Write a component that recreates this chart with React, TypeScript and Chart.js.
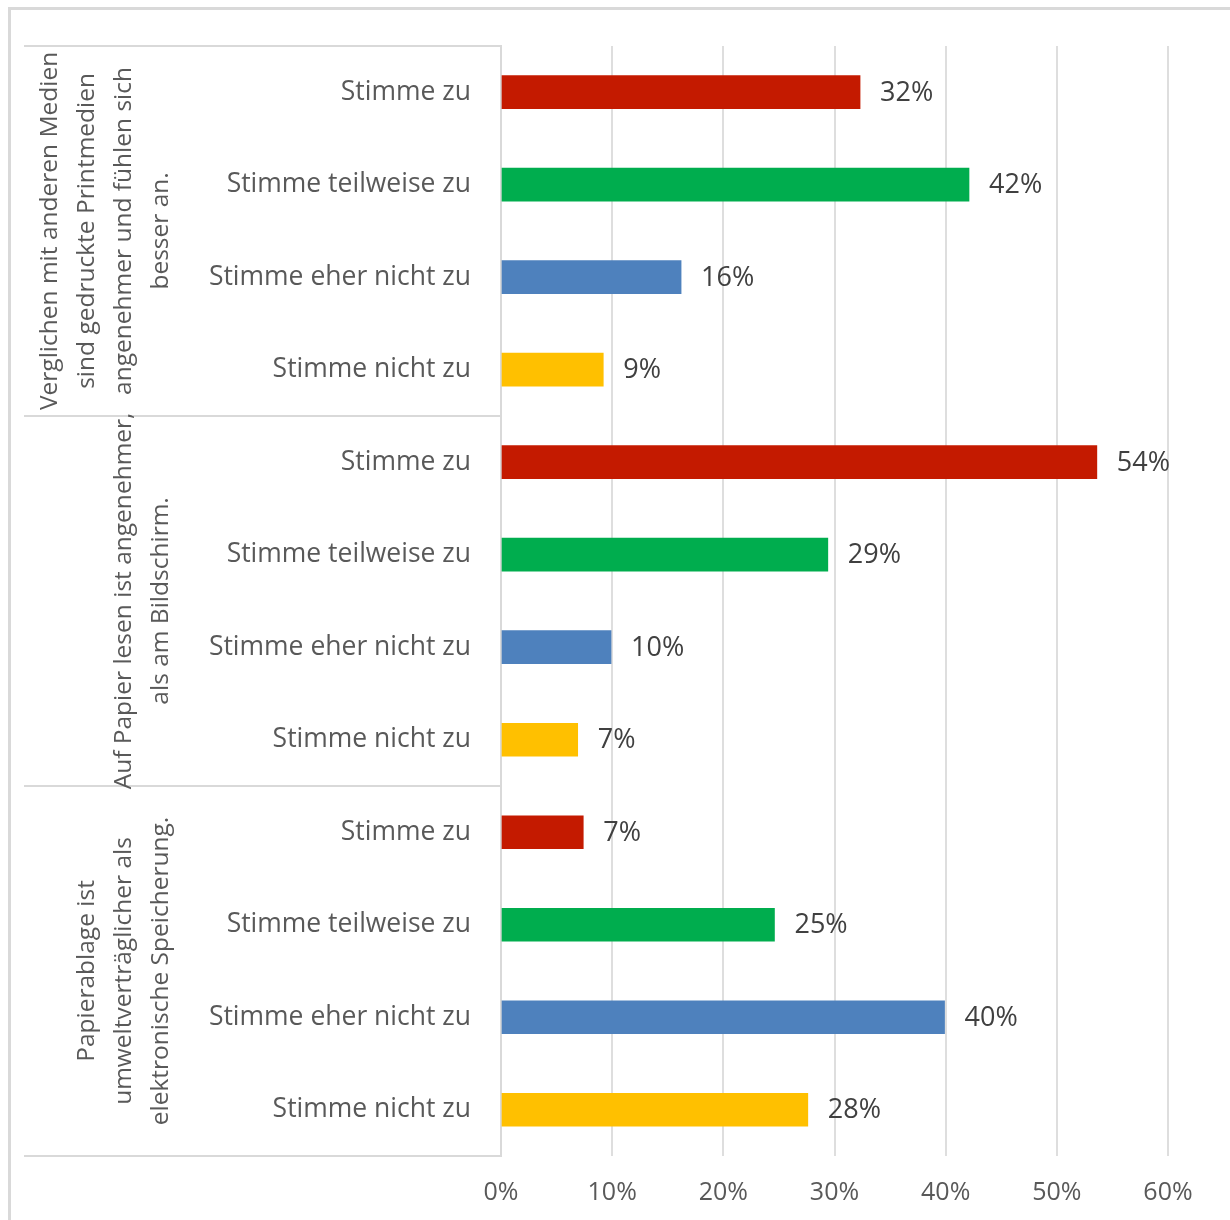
import React, { useEffect, useRef } from "react";
import { Chart, registerables } from "chart.js";

Chart.register(...registerables);

const responses = ["Stimme zu", "Stimme teilweise zu", "Stimme eher nicht zu", "Stimme nicht zu"];
const responseColors = ["#C41A00", "#00AD4E", "#4E81BD", "#FFC000"];

const groupLabels: string[][] = [
  ["Verglichen mit anderen Medien", "sind gedruckte Printmedien", "angenehmer und fühlen sich", "besser an."],
  ["Auf Papier lesen ist angenehmer,", "als am Bildschirm."],
  ["Papierablage ist", "umweltverträglicher als", "elektronische Speicherung."],
];

const group1Values = [32.3, 42.1, 16.2, 9.2];
const group2Values = [53.6, 29.4, 9.9, 6.9];
const group3Values = [7.4, 24.6, 39.9, 27.6];

const xTicks = [0, 10, 20, 30, 40, 50, 60];

const FONT = "'Open Sans', 'DejaVu Sans', sans-serif";

const categories = [...responses, ...responses, ...responses];
const values = [...group1Values, ...group2Values, ...group3Values];
const barColors = categories.map((c) => responseColors[responses.indexOf(c)]);

const framePlugin = {
  id: "frame",
  beforeDraw(chart: any) {
    const ctx = chart.ctx;
    ctx.save();
    ctx.fillStyle = "#ffffff";
    ctx.fillRect(0, 0, chart.width, chart.height);
    ctx.strokeStyle = "#d9d9d9";
    ctx.lineWidth = 3;
    ctx.beginPath();
    ctx.moveTo(8, 8.5);
    ctx.lineTo(chart.width, 8.5);
    ctx.moveTo(9.5, 8);
    ctx.lineTo(9.5, chart.height);
    ctx.stroke();
    ctx.restore();
  },
  afterDraw(chart: any) {
    const ctx = chart.ctx;
    const yScale = chart.scales.y;
    const left = chart.chartArea.left;
    ctx.save();
    ctx.strokeStyle = "#d9d9d9";
    ctx.lineWidth = 2;
    ctx.beginPath();
    for (let g = 0; g <= groupLabels.length; g++) {
      const y = Math.round(yScale.getPixelForValue(g * responses.length - 0.5));
      ctx.moveTo(24, y);
      ctx.lineTo(left, y);
    }
    ctx.stroke();

    ctx.fillStyle = "#595959";
    ctx.font = `24.5px ${FONT}`;
    ctx.textAlign = "center";
    ctx.textBaseline = "middle";
    const lastLineX = 161;
    const spacing = 37;
    groupLabels.forEach((lines, g) => {
      const top = yScale.getPixelForValue(g * responses.length - 0.5);
      const bottom = yScale.getPixelForValue((g + 1) * responses.length - 0.5);
      const cy = (top + bottom) / 2;
      ctx.save();
      ctx.translate(0, cy);
      ctx.rotate(-Math.PI / 2);
      lines.forEach((line, i) => {
        const lx = lastLineX - (lines.length - 1 - i) * spacing;
        ctx.fillText(line, 0, lx);
      });
      ctx.restore();
    });
    ctx.restore();
  },
  afterDatasetsDraw(chart: any) {
    const ctx = chart.ctx;
    const meta = chart.getDatasetMeta(0);
    ctx.save();
    ctx.fillStyle = "#404040";
    ctx.font = `27px ${FONT}`;
    ctx.textAlign = "left";
    ctx.textBaseline = "middle";
    meta.data.forEach((el: any, i: number) => {
      const v = chart.data.datasets[0].data[i];
      ctx.fillText(`${Math.round(v)}%`, el.x + 20, el.y + 1);
    });
    ctx.restore();
  },
};

export default function App() {
  const ref = useRef<HTMLCanvasElement>(null);
  useEffect(() => {
    if (!ref.current) return;
    const chart = new Chart(ref.current, {
      type: "bar",
      data: {
        labels: categories,
        datasets: [
          {
            data: values,
            backgroundColor: barColors,
            borderWidth: 0,
            barThickness: 33,
          },
        ],
      },
      plugins: [framePlugin],
      options: {
        indexAxis: "y",
        responsive: false,
        animation: false,
        devicePixelRatio: 1,
        layout: { padding: { top: 43, right: 62, left: 0, bottom: 0 } },
        plugins: {
          legend: { display: false },
          tooltip: { enabled: false },
        },
        scales: {
          x: {
            type: "linear",
            position: "bottom",
            min: xTicks[0],
            max: xTicks[xTicks.length - 1],
            afterBuildTicks: (scale: any) => {
              scale.ticks = xTicks.map((v) => ({ value: v }));
            },
            afterFit: (scale: any) => {
              scale.height = 64;
            },
            grid: { color: "#dedede", lineWidth: 2, drawTicks: false },
            border: { display: false },
            ticks: {
              padding: 22,
              color: "#595959",
              font: { family: FONT, size: 25 },
              callback: (v: any) => `${v}%`,
            },
          },
          y: {
            type: "category",
            offset: true,
            afterFit: (scale: any) => {
              scale.width = 501;
            },
            grid: { display: false, drawTicks: false },
            border: { display: true, color: "#d9d9d9", width: 2 },
            ticks: {
              padding: 30,
              color: "#595959",
              font: { family: FONT, size: 26.5 },
              autoSkip: false,
            },
          },
        },
      },
    });
    return () => chart.destroy();
  }, []);
  return (
    <div style={{ position: "absolute", left: 0, top: 0, width: 1230, height: 1220 }}>
      <canvas ref={ref} width={1230} height={1220} style={{ display: "block" }} />
    </div>
  );
}
